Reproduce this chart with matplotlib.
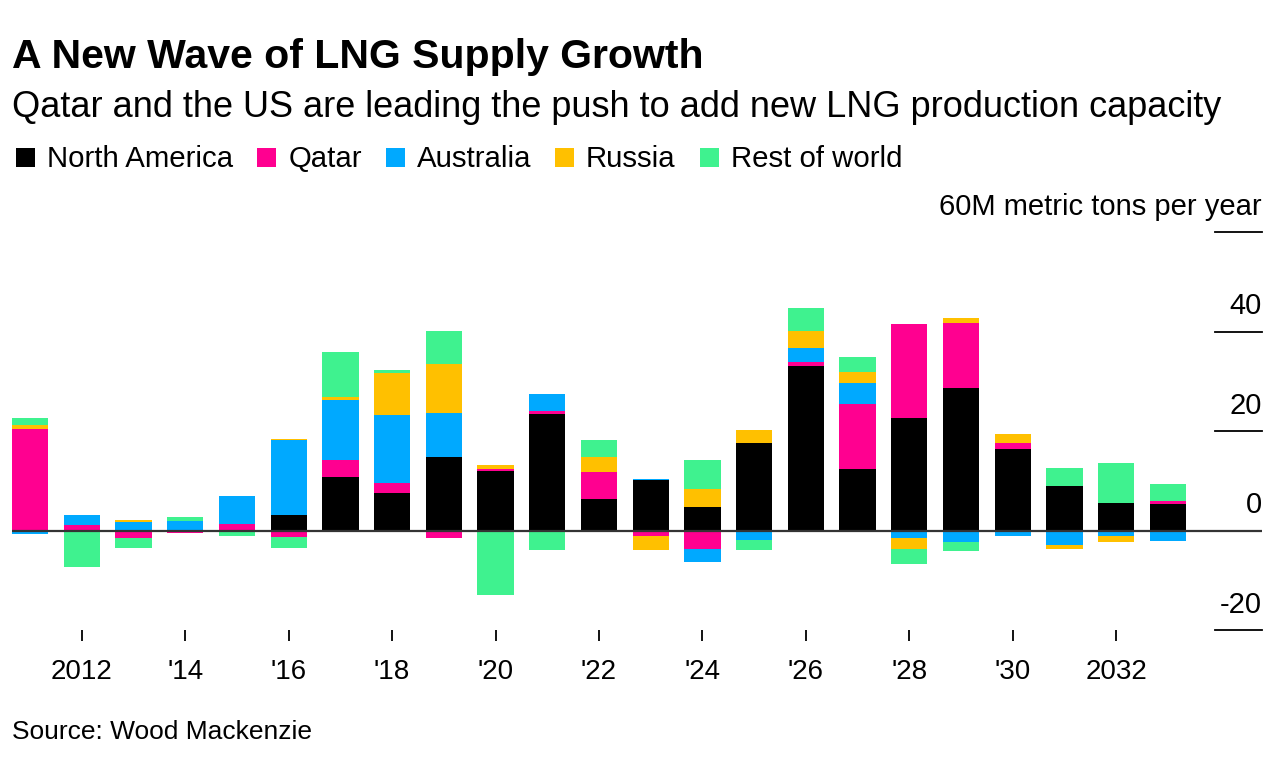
import numpy as np
import matplotlib
matplotlib.use("Agg")
import matplotlib.pyplot as plt
from matplotlib.patches import Rectangle

plt.rcParams['font.family'] = ['Liberation Sans', 'DejaVu Sans']

years = list(range(2011, 2034))
series_names = ['North America', 'Qatar', 'Australia', 'Russia', 'Rest of world']
colors = ['#000000', '#ff0090', '#00a9ff', '#ffc000', '#3ff28f']

north_america = [0, 0, 0, 0, 0, 3.1, 10.8, 7.6, 14.8, 11.9, 23.5, 6.4, 10.1, 4.8, 17.6, 33.1, 12.4, 22.6, 28.7, 16.4, 8.9, 5.5, 5.4]
qatar = [20.5, 1.2, -1.6, -0.5, 1.4, -1.3, 3.3, 2.0, -1.5, 0.5, 0.5, 5.4, -1.1, -3.7, 0, 0.7, 13.1, 18.9, 13.1, 1.2, 0, -0.3, 0.5]
australia = [-0.7, 1.9, 1.7, 1.9, 5.6, 15.0, 12.1, 13.6, 8.8, 0, 3.4, -0.2, 0.2, -2.6, -1.9, 2.9, 4.1, -1.5, -2.3, -1.1, -3.0, -0.9, -2.1]
russia = [0.8, -0.3, 0.5, 0, 0, 0.2, 0.7, 8.5, 9.9, 0.7, 0, 3.0, -2.9, 3.6, 2.6, 3.5, 2.3, -2.3, 1.0, 1.7, -0.7, -1.1, 0]
rest_of_world = [1.3, -7.1, -2.0, 0.9, -1.1, -2.3, 8.9, 0.6, 6.7, -12.9, -4.0, 3.3, 0, 5.8, -2.1, 4.5, 2.9, -3.0, -1.9, 0, 3.6, 8.0, 3.4]

tick_years = list(range(2012, 2033, 2))
tick_labels = ['2012', "'14", "'16", "'18", "'20", "'22", "'24", "'26", "'28", "'30", '2032']
y_ticks = [60, 40, 20, 0, -20]
y_labels = ['60M metric tons per year', '40', '20', '0', '-20']

W, H = 1280, 772
fig = plt.figure(figsize=(W / 100, H / 100), dpi=100)
ax = fig.add_axes([12 / W, 142 / H, 1250 / W, 398 / H])

# stack positives up and negatives down, same series order
pos_base = np.zeros(len(years))
neg_base = np.zeros(len(years))
for vals, c in zip([north_america, qatar, australia, russia, rest_of_world], colors):
    v = np.array(vals, dtype=float)
    pos = np.where(v > 0, v, 0)
    neg = np.where(v < 0, v, 0)
    ax.bar(years, pos, bottom=pos_base, width=0.7, color=c, linewidth=0, zorder=2)
    ax.bar(years, neg, bottom=neg_base, width=0.7, color=c, linewidth=0, zorder=2)
    pos_base += pos
    neg_base += neg

ax.axhline(0, color='#333333', lw=1.6, zorder=3)

ax.set_xlim(2010.65, 2034.82)
ax.set_ylim(-20, 60)

for s in ax.spines.values():
    s.set_visible(False)
ax.set_yticks([])
ax.set_xticks(tick_years)
ax.set_xticklabels(tick_labels)
ax.tick_params(axis='x', length=8, width=1.3, pad=13, labelsize=20, color='black')

# short gridlines and labels at the right
for v, lab in zip(y_ticks, y_labels):
    if v != 0:
        ax.plot([0.962, 1], [v, v], transform=ax.get_yaxis_transform(), color='black', lw=1.3, clip_on=False)
    ax.annotate(lab, xy=(1, v), xycoords=ax.get_yaxis_transform(), xytext=(0, 12.5),
                textcoords='offset points', ha='right', va='baseline', fontsize=21)

# titles
fig.text(12 / W, 1 - 68 / H, 'A New Wave of LNG Supply Growth', fontsize=29.5, fontweight='bold', va='baseline')
fig.text(12 / W, 1 - 117 / H, 'Qatar and the US are leading the push to add new LNG production capacity',
         fontsize=26, va='baseline')
fig.text(12 / W, 1 - 739 / H, 'Source: Wood Mackenzie', fontsize=19, va='baseline')

# legend row
fig.canvas.draw()
renderer = fig.canvas.get_renderer()
x = 16
for name, c in zip(series_names, colors):
    fig.patches.append(Rectangle((x / W, 1 - 167 / H), 19 / W, 19 / H, transform=fig.transFigure,
                                 facecolor=c, edgecolor='none'))
    t = fig.text((x + 31) / W, 1 - 167 / H, name, fontsize=21.2, va='baseline')
    bb = t.get_window_extent(renderer)
    x = bb.x1 + 24

fig.savefig('out.png', dpi=100)
